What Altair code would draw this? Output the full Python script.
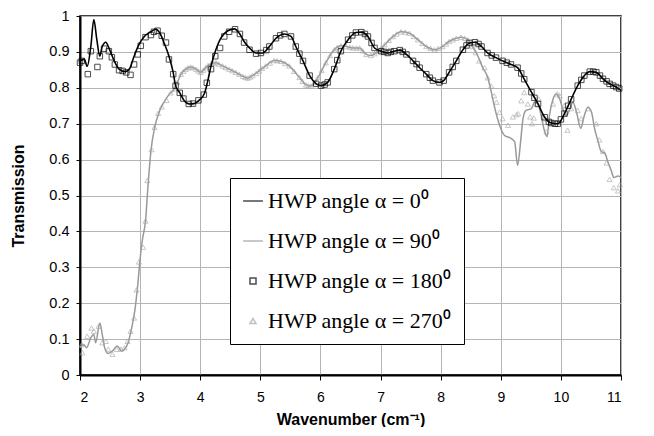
import altair as alt
import pandas as pd

# ---- series labels ----
S0 = "HWP angle α = 0⁰"
S90 = "HWP angle α = 90⁰"
S180 = "HWP angle α = 180⁰"
S270 = "HWP angle α = 270⁰"
series_names = [S0, S90, S180, S270]

# ---- data: (wavenumber, transmission) ----
hwp0_line = [
    (2.0, 0.875), (2.07, 0.88), (2.12, 0.86), (2.18, 0.915), (2.23, 0.99), (2.28, 0.934),
    (2.33, 0.888), (2.37, 0.915), (2.43, 0.927), (2.48, 0.911), (2.57, 0.875), (2.65, 0.852),
    (2.75, 0.845), (2.82, 0.852), (2.9, 0.888), (2.98, 0.92), (3.07, 0.943), (3.18, 0.956),
    (3.26, 0.963), (3.33, 0.952), (3.4, 0.925), (3.48, 0.888), (3.55, 0.843), (3.59, 0.806),
    (3.66, 0.786), (3.73, 0.765), (3.82, 0.755), (3.9, 0.756), (3.98, 0.765), (4.07, 0.784),
    (4.12, 0.815), (4.18, 0.861), (4.26, 0.906), (4.34, 0.938), (4.46, 0.959), (4.57, 0.964),
    (4.65, 0.952), (4.73, 0.929), (4.82, 0.911), (4.93, 0.897), (5.04, 0.897), (5.15, 0.915),
    (5.26, 0.938), (5.4, 0.95), (5.51, 0.943), (5.59, 0.915), (5.71, 0.875), (5.82, 0.834),
    (5.93, 0.811), (6.01, 0.806), (6.12, 0.815), (6.23, 0.852), (6.34, 0.902), (6.46, 0.934),
    (6.59, 0.954), (6.68, 0.955), (6.79, 0.943), (6.9, 0.911), (7.01, 0.902), (7.12, 0.897),
    (7.23, 0.902), (7.32, 0.905), (7.43, 0.893), (7.54, 0.875), (7.65, 0.856), (7.76, 0.838),
    (7.87, 0.82), (7.98, 0.815), (8.05, 0.82), (8.14, 0.843), (8.26, 0.875), (8.37, 0.906),
    (8.48, 0.925), (8.57, 0.927), (8.68, 0.915), (8.78, 0.897), (8.92, 0.884), (9.03, 0.875),
    (9.17, 0.865), (9.28, 0.856), (9.39, 0.824), (9.51, 0.788), (9.62, 0.755), (9.73, 0.718),
    (9.84, 0.702), (9.95, 0.7), (10.06, 0.728), (10.17, 0.768), (10.28, 0.806), (10.39, 0.834),
    (10.48, 0.845), (10.59, 0.843), (10.7, 0.825), (10.81, 0.811), (10.92, 0.802), (11.0, 0.793),
]

hwp90_line = [
    (2.0, 0.076), (2.06, 0.085), (2.11, 0.076), (2.18, 0.104), (2.23, 0.113), (2.26, 0.09),
    (2.33, 0.145), (2.37, 0.113), (2.41, 0.076), (2.47, 0.06), (2.54, 0.067), (2.62, 0.081),
    (2.69, 0.067), (2.74, 0.072), (2.8, 0.09), (2.86, 0.131), (2.91, 0.177), (2.96, 0.25),
    (3.0, 0.324), (3.04, 0.379), (3.09, 0.429), (3.13, 0.524), (3.18, 0.624), (3.24, 0.688),
    (3.32, 0.734), (3.4, 0.761), (3.48, 0.781), (3.57, 0.797), (3.62, 0.815), (3.68, 0.838),
    (3.76, 0.852), (3.84, 0.858), (3.93, 0.852), (4.01, 0.843), (4.09, 0.856), (4.18, 0.867),
    (4.26, 0.87), (4.37, 0.861), (4.48, 0.852), (4.59, 0.843), (4.71, 0.832), (4.79, 0.827),
    (4.87, 0.834), (4.98, 0.847), (5.09, 0.861), (5.23, 0.876), (5.34, 0.874), (5.48, 0.861),
    (5.65, 0.829), (5.76, 0.808), (5.84, 0.805), (5.96, 0.829), (6.09, 0.87), (6.23, 0.906),
    (6.34, 0.917), (6.43, 0.915), (6.54, 0.911), (6.65, 0.911), (6.76, 0.893), (6.84, 0.89),
    (6.96, 0.902), (7.07, 0.92), (7.21, 0.943), (7.34, 0.956), (7.48, 0.952), (7.62, 0.934),
    (7.76, 0.915), (7.9, 0.906), (8.03, 0.915), (8.14, 0.929), (8.26, 0.938), (8.34, 0.941),
    (8.45, 0.934), (8.53, 0.915), (8.62, 0.888), (8.7, 0.856), (8.78, 0.83), (8.84, 0.79),
    (8.89, 0.751), (8.98, 0.696), (9.06, 0.668), (9.17, 0.659), (9.23, 0.65), (9.28, 0.584),
    (9.33, 0.65), (9.37, 0.714), (9.42, 0.737), (9.51, 0.742), (9.56, 0.76), (9.62, 0.755),
    (9.67, 0.723), (9.73, 0.678), (9.77, 0.664), (9.81, 0.723), (9.87, 0.769), (9.92, 0.783),
    (9.98, 0.769), (10.03, 0.742), (10.09, 0.723), (10.14, 0.737), (10.2, 0.76), (10.26, 0.732),
    (10.33, 0.687), (10.39, 0.723), (10.45, 0.746), (10.51, 0.732), (10.56, 0.687), (10.62, 0.65),
    (10.67, 0.623), (10.73, 0.618), (10.78, 0.595), (10.84, 0.568), (10.88, 0.55), (10.95, 0.554),
    (11.0, 0.55),
]

hwp180_points = [
    (2.0, 0.87), (2.03, 0.875), (2.13, 0.838), (2.18, 0.902), (2.29, 0.858), (2.33, 0.888),
    (2.4, 0.909), (2.48, 0.902), (2.53, 0.885), (2.58, 0.865), (2.65, 0.849), (2.71, 0.847),
    (2.77, 0.843), (2.84, 0.836), (2.9, 0.865), (2.96, 0.893), (3.01, 0.917), (3.09, 0.941),
    (3.18, 0.947), (3.23, 0.956), (3.29, 0.959), (3.36, 0.945), (3.43, 0.926), (3.48, 0.879),
    (3.55, 0.838), (3.59, 0.806), (3.66, 0.786), (3.72, 0.77), (3.81, 0.755), (3.88, 0.756),
    (3.97, 0.765), (4.06, 0.781), (4.11, 0.814), (4.18, 0.852), (4.25, 0.888), (4.33, 0.911),
    (4.4, 0.943), (4.48, 0.956), (4.58, 0.963), (4.66, 0.95), (4.73, 0.926), (4.82, 0.906),
    (4.93, 0.895), (5.01, 0.897), (5.1, 0.905), (5.15, 0.915), (5.26, 0.938), (5.33, 0.946),
    (5.4, 0.95), (5.51, 0.943), (5.59, 0.915), (5.65, 0.895), (5.71, 0.875), (5.82, 0.834),
    (5.93, 0.811), (6.01, 0.806), (6.07, 0.809), (6.12, 0.815), (6.23, 0.852), (6.28, 0.877),
    (6.34, 0.902), (6.46, 0.934), (6.53, 0.946), (6.59, 0.954), (6.68, 0.955), (6.74, 0.95),
    (6.79, 0.943), (6.85, 0.925), (6.9, 0.911), (7.01, 0.902), (7.06, 0.9), (7.12, 0.897),
    (7.17, 0.9), (7.23, 0.902), (7.32, 0.905), (7.37, 0.9), (7.43, 0.893), (7.54, 0.875),
    (7.6, 0.866), (7.65, 0.856), (7.76, 0.838), (7.82, 0.828), (7.87, 0.82), (7.98, 0.815),
    (8.05, 0.82), (8.14, 0.843), (8.2, 0.858), (8.26, 0.875), (8.37, 0.906), (8.43, 0.918),
    (8.48, 0.925), (8.57, 0.927), (8.63, 0.922), (8.68, 0.915), (8.78, 0.897), (8.85, 0.89),
    (8.92, 0.884), (9.03, 0.875), (9.1, 0.87), (9.17, 0.865), (9.28, 0.856), (9.34, 0.84),
    (9.39, 0.824), (9.51, 0.788), (9.56, 0.772), (9.62, 0.755), (9.73, 0.718), (9.8, 0.705),
    (9.84, 0.702), (9.9, 0.7), (9.95, 0.7), (10.0, 0.712), (10.06, 0.728), (10.12, 0.75),
    (10.17, 0.768), (10.28, 0.806), (10.34, 0.822), (10.39, 0.834), (10.48, 0.845), (10.54, 0.845),
    (10.59, 0.843), (10.65, 0.834), (10.7, 0.825), (10.76, 0.818), (10.81, 0.811), (10.87, 0.806),
    (10.92, 0.802), (10.97, 0.798),
]

hwp270_points = [
    (2.03, 0.085), (2.04, 0.062), (2.12, 0.108), (2.19, 0.131), (2.23, 0.122), (2.31, 0.136),
    (2.37, 0.09), (2.43, 0.094), (2.47, 0.072), (2.54, 0.058), (2.61, 0.072), (2.68, 0.072),
    (2.74, 0.076), (2.79, 0.094), (2.84, 0.122), (2.9, 0.159), (2.94, 0.237), (2.98, 0.315),
    (3.05, 0.356), (3.09, 0.429), (3.12, 0.542), (3.19, 0.628), (3.24, 0.69), (3.3, 0.729),
    (3.36, 0.747), (3.44, 0.765), (3.51, 0.786), (3.57, 0.797), (3.62, 0.815), (3.68, 0.838),
    (3.72, 0.846), (3.76, 0.852), (3.8, 0.856), (3.84, 0.858), (3.88, 0.856), (3.93, 0.852),
    (3.97, 0.847), (4.01, 0.843), (4.05, 0.849), (4.09, 0.856), (4.13, 0.862), (4.18, 0.867),
    (4.22, 0.869), (4.26, 0.87), (4.31, 0.866), (4.37, 0.861), (4.42, 0.857), (4.48, 0.852),
    (4.53, 0.848), (4.59, 0.843), (4.65, 0.838), (4.71, 0.832), (4.75, 0.829), (4.79, 0.827),
    (4.83, 0.83), (4.87, 0.834), (4.93, 0.84), (4.98, 0.847), (5.03, 0.854), (5.09, 0.861),
    (5.16, 0.869), (5.23, 0.876), (5.28, 0.876), (5.34, 0.874), (5.41, 0.868), (5.48, 0.861),
    (5.56, 0.846), (5.65, 0.829), (5.7, 0.818), (5.76, 0.808), (5.8, 0.806), (5.84, 0.805),
    (5.9, 0.815), (5.96, 0.829), (6.02, 0.848), (6.09, 0.87), (6.16, 0.89), (6.23, 0.906),
    (6.28, 0.912), (6.34, 0.917), (6.43, 0.915), (6.49, 0.913), (6.54, 0.911), (6.6, 0.911),
    (6.65, 0.911), (6.7, 0.903), (6.76, 0.893), (6.84, 0.89), (6.9, 0.895), (6.96, 0.902),
    (7.01, 0.911), (7.07, 0.92), (7.14, 0.932), (7.21, 0.943), (7.27, 0.95), (7.34, 0.956),
    (7.41, 0.955), (7.48, 0.952), (7.55, 0.943), (7.62, 0.934), (7.69, 0.924), (7.76, 0.915),
    (7.83, 0.91), (7.9, 0.906), (7.96, 0.91), (8.03, 0.915), (8.09, 0.922), (8.14, 0.929),
    (8.2, 0.934), (8.26, 0.938), (8.34, 0.941), (8.4, 0.938), (8.45, 0.934), (8.53, 0.915),
    (8.58, 0.898), (8.64, 0.875), (8.73, 0.856), (8.78, 0.828), (8.84, 0.805), (8.89, 0.778),
    (8.93, 0.76), (8.98, 0.732), (9.03, 0.714), (9.12, 0.696), (9.2, 0.719), (9.26, 0.725),
    (9.29, 0.728), (9.34, 0.764), (9.39, 0.787), (9.45, 0.755), (9.49, 0.719), (9.52, 0.7),
    (9.55, 0.716), (9.59, 0.755), (9.63, 0.769), (9.73, 0.714), (9.76, 0.678), (9.87, 0.755),
    (9.94, 0.783), (9.98, 0.778), (10.06, 0.751), (10.11, 0.682), (10.17, 0.742), (10.28, 0.737),
    (10.34, 0.714), (10.45, 0.742), (10.59, 0.7), (10.64, 0.655), (10.7, 0.623), (10.76, 0.591),
    (10.81, 0.545), (10.88, 0.522), (10.95, 0.513), (10.98, 0.53),
]

y_ticks = [0, 0.1, 0.2, 0.3, 0.4, 0.5, 0.6, 0.7, 0.8, 0.9, 1]
x_ticks = [2, 3, 4, 5, 6, 7, 8, 9, 10, 11]

colors = ["#000000", "#999999", "#000000", "#a6a6a6"]
shapes = ["M-3.3,0H3.3", "M-3.3,0H3.3", "square", "triangle-up"]


def frame(pairs, name):
    return pd.DataFrame({"x": [p[0] for p in pairs], "y": [p[1] for p in pairs], "s": name})


df0 = frame(hwp0_line, S0)
df90 = frame(hwp90_line, S90)
df180 = frame(hwp180_points, S180)
df270 = frame(hwp270_points, S270)

x_enc = alt.X(
    "x:Q",
    scale=alt.Scale(domain=[2, 11], nice=False, zero=False),
    axis=alt.Axis(values=x_ticks, title="Wavenumber  (cm⁻¹)", format="d",
                  tickSize=5, labelPadding=10, titlePadding=7),
)
y_enc = alt.Y(
    "y:Q",
    scale=alt.Scale(domain=[0, 1], nice=False),
    axis=alt.Axis(values=y_ticks, title="Transmission", format="~g",
                  tickSize=4, labelPadding=7, titlePadding=22, labelFontSize=14.5),
)

legend = alt.Legend(
    title=None, orient="none", legendX=150, legendY=162,
    labelFont="Liberation Serif", labelFontSize=22, labelLimit=600,
    symbolSize=36, rowPadding=18, padding=12,
    strokeColor="#000000", fillColor="#ffffff",
)

gray_line = alt.Chart(df90).mark_line(strokeWidth=1.5, interpolate="monotone", color=colors[1]).encode(
    x=x_enc, y=y_enc)
tri = alt.Chart(df270).mark_point(filled=False, size=26, strokeWidth=0.9, shape="triangle-up",
                                  color=colors[3]).encode(x=x_enc, y=y_enc)
black_line = alt.Chart(df0).mark_line(strokeWidth=1.6, interpolate="monotone", color=colors[0]).encode(
    x=x_enc, y=y_enc)
sq = alt.Chart(df180).mark_point(filled=False, size=30, strokeWidth=1).encode(
    x=x_enc, y=y_enc,
    color=alt.Color("s:N", scale=alt.Scale(domain=series_names, range=colors), legend=legend),
    shape=alt.Shape("s:N", scale=alt.Scale(domain=series_names, range=shapes), legend=legend),
)

chart = (
    alt.layer(gray_line, tri, black_line, sq)
    .properties(
        width=541, height=359,
        padding={"left": 2, "top": 0, "right": 10, "bottom": 0},
    )
    .configure_view(stroke="#000000", strokeWidth=1.5)
    .configure_axis(
        domainColor="#000000", domainWidth=2, tickColor="#000000", tickWidth=1,
        gridColor="#b4b4b4", gridWidth=1,
        labelFont="Liberation Sans", labelFontSize=14, labelColor="#000000",
        titleFont="Liberation Sans", titleFontSize=16, titleFontWeight="bold", titleColor="#000000",
    )
)

chart.save("out.html", embed_options={"renderer": "svg", "actions": False})
